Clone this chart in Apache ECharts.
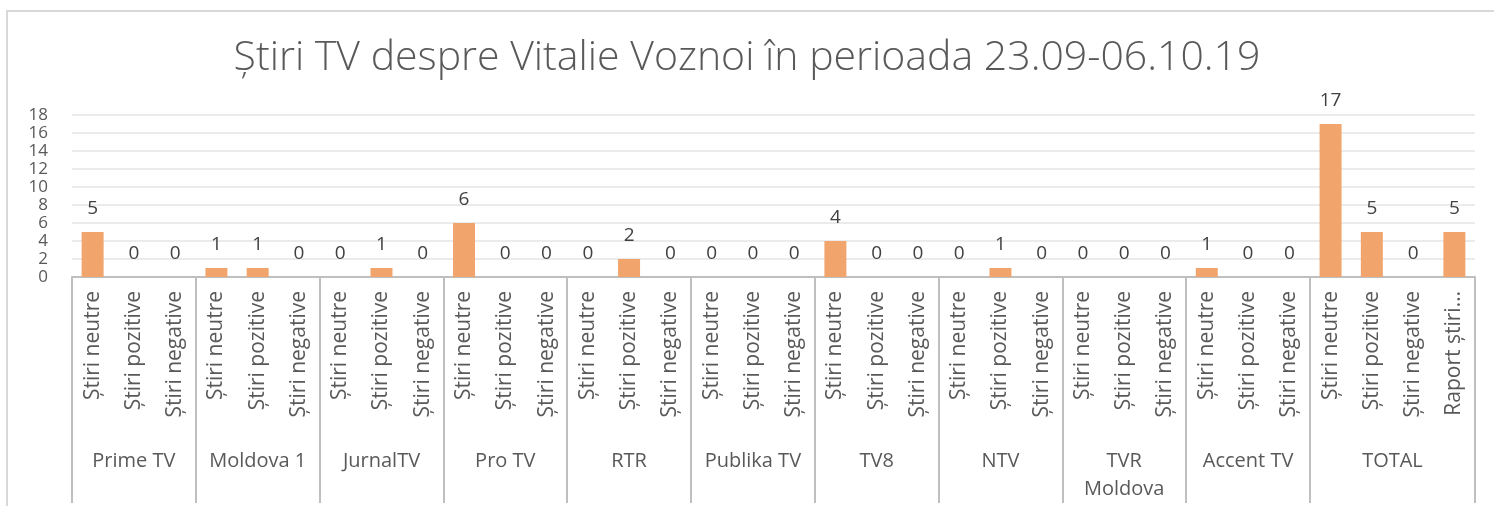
<!DOCTYPE html>
<html>
<head>
<meta charset="utf-8">
<script src="https://cdn.jsdelivr.net/npm/echarts@6/dist/echarts.min.js"></script>
<style>
  html, body { margin: 0; padding: 0; background: #fff; }
  #chart { width: 1494px; height: 510px; }
  .frame {
    position: absolute; left: 6px; top: 10px; right: -4px; bottom: 4px;
    border-left: 2px solid #d9d9d9; border-top: 2px solid #d9d9d9;
    pointer-events: none;
  }
</style>
</head>
<body>
<div class="frame"></div>
<div id="chart"></div>
<script>
// date
const groups = ['Prime TV', 'Moldova 1', 'JurnalTV', 'Pro TV', 'RTR', 'Publika TV', 'TV8', 'NTV', 'TVR\nMoldova', 'Accent TV', 'TOTAL']
const groupSizes = [3, 3, 3, 3, 3, 3, 3, 3, 3, 3, 4]
const kinds = ['Știri neutre', 'Știri pozitive', 'Știri negative']
const totalKinds = ['Știri neutre', 'Știri pozitive', 'Știri negative', 'Raport știri pozitive/negative']
const values = [
  5, 0, 0,
  1, 1, 0,
  0, 1, 0,
  6, 0, 0,
  0, 2, 0,
  0, 0, 0,
  4, 0, 0,
  0, 1, 0,
  0, 0, 0,
  1, 0, 0,
  17, 5, 0, 5
]
const yTicks = [0, 2, 4, 6, 8, 10, 12, 14, 16, 18]

// categorii + limitele grupurilor
const categories = []
const bounds = [0]
const centers = []
groups.forEach((g, i) => {
  const names = groupSizes[i] === 4 ? totalKinds : kinds
  names.forEach(n => categories.push(n))
  const start = bounds[bounds.length - 1]
  bounds.push(start + groupSizes[i])
  centers.push(start + groupSizes[i] / 2)
})

const chart = echarts.init(document.getElementById('chart'))
const font = "'Open Sans', 'Noto Sans', sans-serif"

const option = {
  animation: false,
  textStyle: { fontFamily: font },
  title: {
    text: 'Știri TV despre Vitalie Voznoi în perioada 23.09-06.10.19',
    left: 'center',
    top: 33,
    textStyle: { fontSize: 41, fontWeight: 300, color: '#595959', fontFamily: font }
  },
  grid: { left: 72, right: 19, top: 115, bottom: 233, containLabel: false },
  xAxis: [
    {
      type: 'category',
      data: categories,
      axisLine: { show: true, lineStyle: { color: '#bfbfbf', width: 2 } },
      axisTick: { show: false },
      axisLabel: {
        interval: 0,
        rotate: 90,
        margin: 14,
        fontSize: 21,
        color: '#595959',
        // Excel taie eticheta lungă
        formatter: v => (v.length > 16 ? v.slice(0, 12) + '…' : v)
      }
    },
    {
      type: 'value',
      position: 'bottom',
      min: 0,
      max: categories.length,
      splitLine: { show: false },
      axisLine: { show: false },
      axisTick: {
        show: true,
        customValues: bounds,
        length: 226,
        lineStyle: { color: '#bfbfbf', width: 2 }
      },
      axisLabel: {
        customValues: centers,
        margin: 170,
        fontSize: 20,
        color: '#595959',
        lineHeight: 28,
        verticalAlign: 'top',
        formatter: v => groups[centers.indexOf(v)]
      }
    }
  ],
  yAxis: {
    type: 'value',
    min: 0,
    max: 18,
    interval: 2,
    axisLine: { show: false },
    axisTick: { show: false },
    axisLabel: {
      fontSize: 17,
      color: '#595959',
      margin: 24,
      showMinLabel: true,
      showMaxLabel: true,
      formatter: v => (yTicks.includes(v) ? String(v) : '')
    },
    splitLine: { lineStyle: { color: '#ebebeb', width: 2 } }
  },
  series: [{
    type: 'bar',
    xAxisIndex: 0,
    data: values,
    barWidth: 22,
    itemStyle: { color: '#f2a46d' },
    label: {
      show: true,
      position: 'top',
      distance: 14,
      fontSize: 19,
      color: '#404040'
    }
  }]
}

chart.setOption(option)
</script>
</body>
</html>
